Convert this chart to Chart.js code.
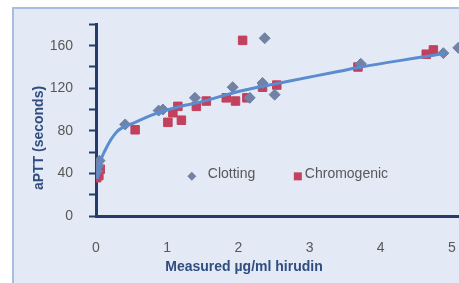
<!DOCTYPE html>
<html>
<head>
<meta charset="utf-8">
<script src="https://cdn.jsdelivr.net/npm/chart.js@4"></script>
<style>
  html, body { margin: 0; padding: 0; background: #fff; overflow: hidden; width: 459px; height: 283px; }
  #frame {
    position: absolute; left: 12px; top: 7px; width: 520px; height: 320px;
    border-left: 2px solid #a9bde0; border-top: 2px solid #a9bde0; background: #e4e9f6;
  }
  canvas { position: absolute; left: 0; top: 0; }
</style>
</head>
<body>
<div id="frame"></div>
<canvas id="chart" width="466" height="283"></canvas>
<script>
// measured hirudin (µg/ml) vs aPTT (seconds)
const clottingX = [0.02, 0.03, 0.05, 0.41, 0.88, 0.94, 1.39, 1.92, 2.16, 2.34, 2.37, 2.51, 3.72, 4.88, 5.09]
const clottingY = [42, 47, 52, 86, 99, 100, 111, 121, 111, 125, 167, 114, 143, 153, 158]

const chromoX = [0.01, 0.02, 0.04, 0.06, 0.55, 1.01, 1.08, 1.15, 1.2, 1.41, 1.55, 1.83, 1.96, 2.06, 2.12, 2.34, 2.54, 3.68, 4.64, 4.74]
const chromoY = [36, 40, 38, 44, 81, 88, 97, 103, 90, 103, 108, 111, 108, 165, 111, 121, 123, 140, 152, 156]

// trend line
const trendX = [0.02, 0.05, 0.13, 0.29, 0.55, 0.83, 1.25, 1.46, 2.0, 2.58, 3.42, 3.72, 4.82, 4.9]
const trendY = [35, 48, 62, 79, 88, 96, 104, 107, 117, 125, 136, 140, 152, 153]

const xTicks = [0, 1, 2, 3, 4, 5]
const yLabels = [0, 40, 80, 120, 160]

const pts = (xs, ys) => xs.map((x, i) => ({ x: x, y: ys[i] }))

const FONT = "'Liberation Sans', Arial, sans-serif"
const NAVY = '#263b6c'
const TITLE = '#304d7f'
const GREY = '#585858'
const CLOT = '#7182a5'
const CHROMO = '#c2415d'

const overlay = {
  id: 'overlay',
  afterDraw(chart) {
    const ctx = chart.ctx
    const a = chart.chartArea
    ctx.save()
    // legend inside the plot
    const ly = a.top + a.height * 0.793
    const lx1 = a.left + a.width * 0.264
    const lx2 = a.left + a.width * 0.556
    ctx.fillStyle = CLOT
    ctx.beginPath()
    ctx.moveTo(lx1, ly - 4.5); ctx.lineTo(lx1 + 4.5, ly); ctx.lineTo(lx1, ly + 4.5); ctx.lineTo(lx1 - 4.5, ly)
    ctx.closePath(); ctx.fill()
    ctx.fillStyle = CHROMO
    ctx.fillRect(lx2 - 4, ly - 4, 8, 8)
    ctx.fillStyle = GREY
    ctx.font = '14px ' + FONT
    ctx.textBaseline = 'middle'
    ctx.fillText(chart.data.datasets[1].label, lx1 + 16, ly - 2)
    ctx.fillText(chart.data.datasets[2].label, lx2 + 7, ly - 2)
    // axis titles
    ctx.fillStyle = TITLE
    ctx.font = 'bold 14px ' + FONT
    ctx.textAlign = 'center'
    ctx.fillText('Measured µg/ml hirudin', 244, 267)
    ctx.translate(39, 138)
    ctx.rotate(-Math.PI / 2)
    ctx.fillText('aPTT (seconds)', 0, 0)
    ctx.restore()
  }
}

new Chart(document.getElementById('chart'), {
  type: 'scatter',
  data: {
    datasets: [
      {
        type: 'line',
        label: 'Trend',
        data: pts(trendX, trendY),
        borderColor: '#5a8ccf',
        borderWidth: 3,
        pointRadius: 0,
        tension: 0.4,
        cubicInterpolationMode: 'monotone',
        fill: false
      },
      {
        label: 'Clotting',
        data: pts(clottingX, clottingY),
        pointStyle: 'rectRot',
        pointRadius: 5.5,
        backgroundColor: CLOT,
        borderColor: CLOT,
        borderWidth: 1
      },
      {
        label: 'Chromogenic',
        data: pts(chromoX, chromoY),
        pointStyle: 'rect',
        pointRadius: 6,
        backgroundColor: CHROMO,
        borderColor: CHROMO,
        borderWidth: 1
      }
    ]
  },
  options: {
    responsive: false,
    animation: false,
    layout: { padding: { left: 0, right: 0, top: 23, bottom: 0 } },
    plugins: {
      legend: { display: false },
      tooltip: { enabled: false }
    },
    scales: {
      x: {
        type: 'linear',
        min: 0,
        max: 5.1,
        afterFit: (scale) => {
          scale.height = 67
          scale.paddingLeft = 0
          scale.paddingRight = 0
        },
        grid: { display: false },
        border: { display: true, color: NAVY, width: 3 },
        ticks: {
          stepSize: 1,
          includeBounds: false,
          padding: 16,
          color: GREY,
          font: { family: FONT, size: 14 },
          callback: (v) => xTicks.includes(v) ? String(v) : ''
        }
      },
      y: {
        min: 0,
        max: 180,
        afterFit: (scale) => { scale.width = 96 },
        grid: {
          drawOnChartArea: false,
          drawTicks: true,
          tickLength: 7,
          tickColor: NAVY,
          tickWidth: 2
        },
        border: { display: true, color: NAVY, width: 3 },
        ticks: {
          stepSize: 20,
          padding: 16,
          color: GREY,
          font: { family: FONT, size: 14 },
          callback: (v) => yLabels.includes(v) ? String(v) : ''
        }
      }
    }
  },
  plugins: [overlay]
})
</script>
</body>
</html>
